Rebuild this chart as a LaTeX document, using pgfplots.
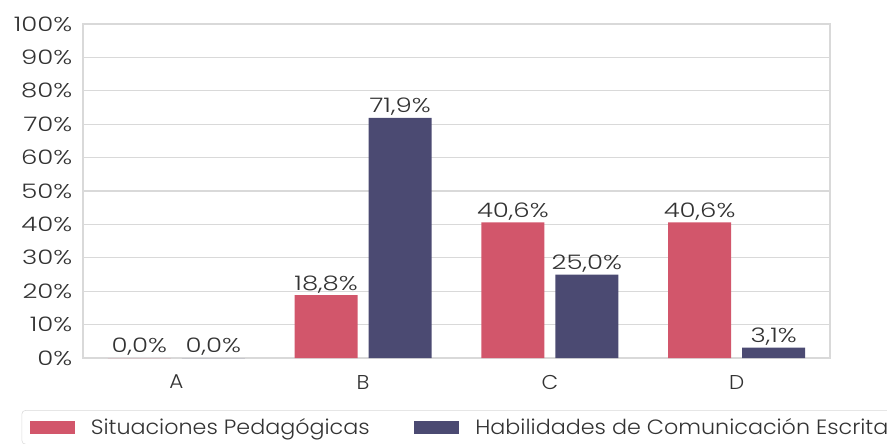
\documentclass[border=0pt]{standalone}
\usepackage{pgfplots}
\pgfplotsset{compat=1.18}
\usepackage{fontspec}
\setmainfont{Poppins}[UprightFont={* Light}, FakeStretch=1.076]
\newfontfamily\numfont{Poppins}[UprightFont={* Light}, FakeStretch=1.3]
\definecolor{cred}{HTML}{D2566B}
\definecolor{cblue}{HTML}{4B4A72}
\definecolor{cgrid}{HTML}{D9D9D9}
\definecolor{ctext}{HTML}{333333}
\begin{document}
\begin{tikzpicture}
\useasboundingbox (0,0) rectangle (665.25pt,332.25pt);
\begin{axis}[
  at={(62.25pt,63.75pt)}, anchor=south west,
  scale only axis, width=560.25pt, height=250.5pt,
  ybar=8.25pt, bar width=47.25pt,
  xmin=-0.5, xmax=3.5, ymin=0, ymax=100,
  xtick={0,1,2,3}, xticklabels={A,B,C,D},
  ytick={0,10,...,100},
  yticklabel={\pgfmathprintnumber{\tick}\%},
  grid=none, ymajorgrids, grid style={cgrid, line width=0.8pt},
  axis line style={cgrid, line width=0.8pt},
  tick style={draw=none},
  font=\numfont\fontsize{15}{18}\selectfont,
  every tick label/.append style={text=ctext},
  /pgf/number format/assume math mode=true,
  yticklabel style={xshift=-4.5pt},
  xticklabel style={yshift=-5pt, font=\fontsize{15}{18}\selectfont},
  nodes near coords={\pgfmathprintnumber[fixed,fixed zerofill,precision=1,use comma]{\pgfplotspointmeta}\%},
  every node near coord/.append style={text=ctext, font=\numfont\fontsize{15}{18}\selectfont, inner sep=1.5pt},
  legend columns=2,
  legend style={at={(-0.0823,-0.1557)}, anchor=north west, draw=cgrid, rounded corners=3pt,
    font=\rmfamily\fontsize{15.5}{18}\selectfont, text=ctext, inner xsep=6pt, inner ysep=4pt,
    /tikz/every odd column/.append style={column sep=10pt},
    /tikz/every even column/.append style={column sep=31.5pt}},
  legend image code/.code={\fill[#1, sharp corners] (0pt,-4.875pt) rectangle (33.75pt,4.875pt);},
]
\addplot[fill=cred, draw=none] coordinates {(0,0) (1,18.8) (2,40.6) (3,40.6)};
\addplot[fill=cblue, draw=none] coordinates {(0,0) (1,71.9) (2,25.0) (3,3.1)};
\legend{Situaciones Pedagógicas, Habilidades de Comunicación Escrita}
\end{axis}
\end{tikzpicture}
\end{document}
